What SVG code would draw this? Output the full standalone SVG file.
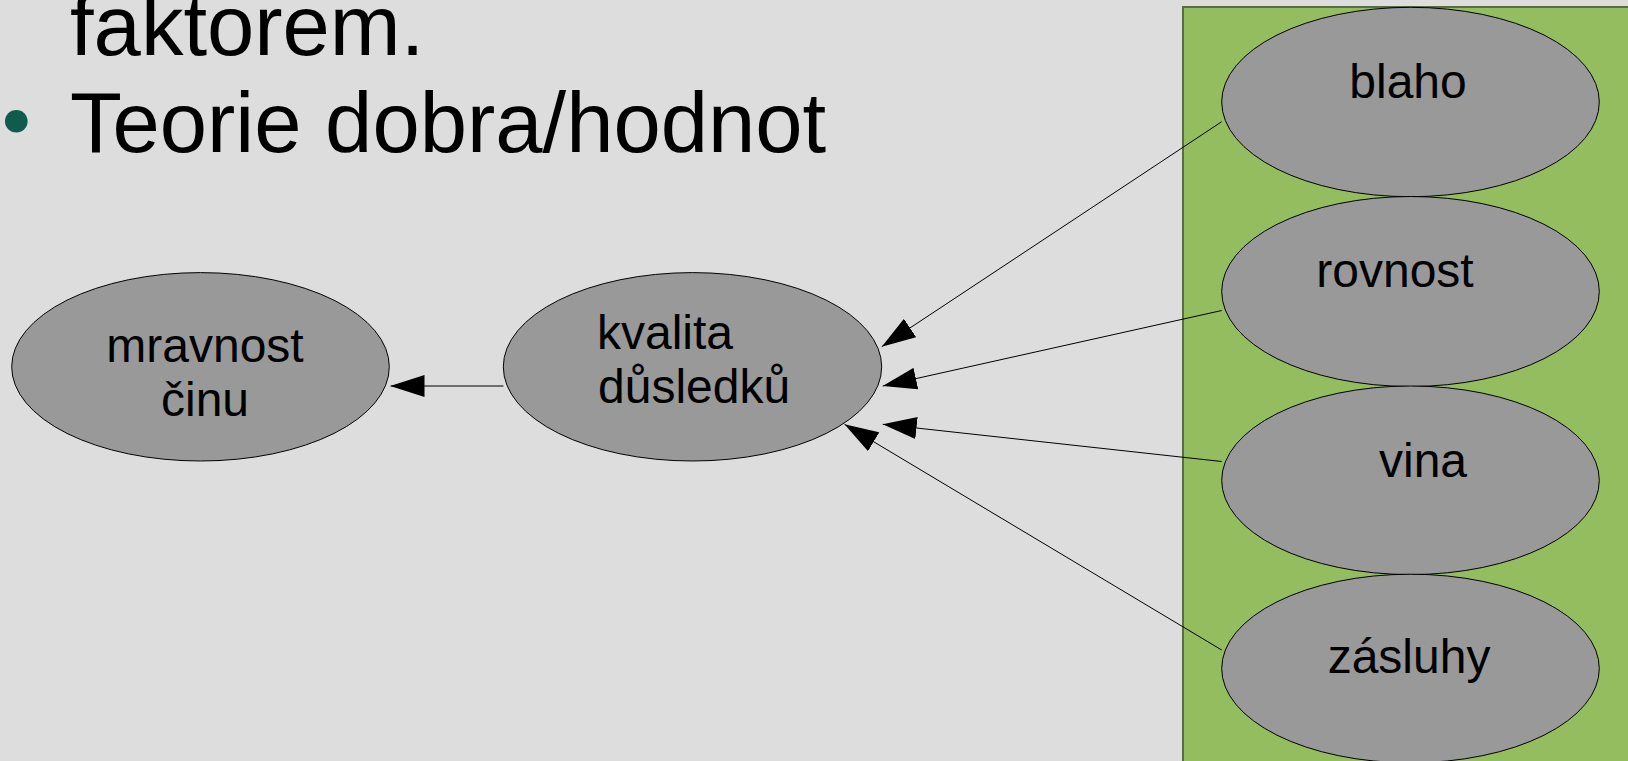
<svg xmlns="http://www.w3.org/2000/svg" width="1628" height="761" viewBox="0 0 1628 761">
<style>
.bg{fill:#dddddd}
.node{fill:#999999;stroke:#000000;stroke-width:1}
.lbl{font-family:"Liberation Sans",Arial,sans-serif;font-size:48px;fill:#000000}
.big{font-family:"Liberation Sans",Arial,sans-serif;font-size:85px;fill:#000000}
.conn{stroke:#000000;stroke-width:1;fill:none;marker-end:url(#arrow)}
</style>
<defs>
<marker id="arrow" markerUnits="userSpaceOnUse" markerWidth="34" markerHeight="22" viewBox="0 0 34 22" refX="34" refY="11" orient="auto">
<path d="M0,0 L34,11 L0,22 Z" fill="#000000"/>
</marker>
</defs>
<rect class="bg" x="0" y="0" width="1628" height="761"/>
<g id="text-block">
<text class="big" x="70" y="55">faktorem.</text>
<circle cx="16.3" cy="121.3" r="11.3" fill="#0f5c4f"/>
<text class="big" x="70" y="151.7">Teorie dobra/hodnot</text>
</g>
<g id="group-box">
<rect x="1183" y="7" width="460" height="760" fill="#93bd5e" stroke="#5a6b48" stroke-width="2"/>
</g>
<g id="connectors">
<line class="conn" x1="1221.7" y1="121.7" x2="881.7" y2="346.7"/>
<line class="conn" x1="1221.7" y1="310.5" x2="882.7" y2="386"/>
<line class="conn" x1="1221.7" y1="461.5" x2="882.7" y2="424.3"/>
<line class="conn" x1="1221.7" y1="650" x2="844.5" y2="424.3"/>
<line class="conn" x1="503.5" y1="386" x2="390.5" y2="386"/>
</g>
<g id="node-mravnost">
<ellipse class="node" cx="200.5" cy="366.8" rx="188.8" ry="94.2"/>
<text class="lbl" x="205" y="361.7" text-anchor="middle">mravnost</text>
<text class="lbl" x="205" y="415.7" text-anchor="middle">činu</text>
</g>
<g id="node-kvalita">
<ellipse class="node" cx="692.5" cy="366.8" rx="189.2" ry="94.2"/>
<text class="lbl" x="597" y="349">kvalita</text>
<text class="lbl" x="598" y="403.3">důsledků</text>
</g>
<g id="node-blaho">
<ellipse class="node" cx="1410.5" cy="102" rx="188.8" ry="94.7"/>
<text class="lbl" x="1408" y="98" text-anchor="middle">blaho</text>
</g>
<g id="node-rovnost">
<ellipse class="node" cx="1410.5" cy="291.5" rx="188.8" ry="95"/>
<text class="lbl" x="1395" y="286.7" text-anchor="middle">rovnost</text>
</g>
<g id="node-vina">
<ellipse class="node" cx="1410.5" cy="480.3" rx="188.8" ry="94.3"/>
<text class="lbl" x="1423" y="476.7" text-anchor="middle">vina</text>
</g>
<g id="node-zasluhy">
<ellipse class="node" cx="1410.5" cy="668.5" rx="188.8" ry="94.3"/>
<text class="lbl" x="1409" y="673" text-anchor="middle">zásluhy</text>
</g>
</svg>
